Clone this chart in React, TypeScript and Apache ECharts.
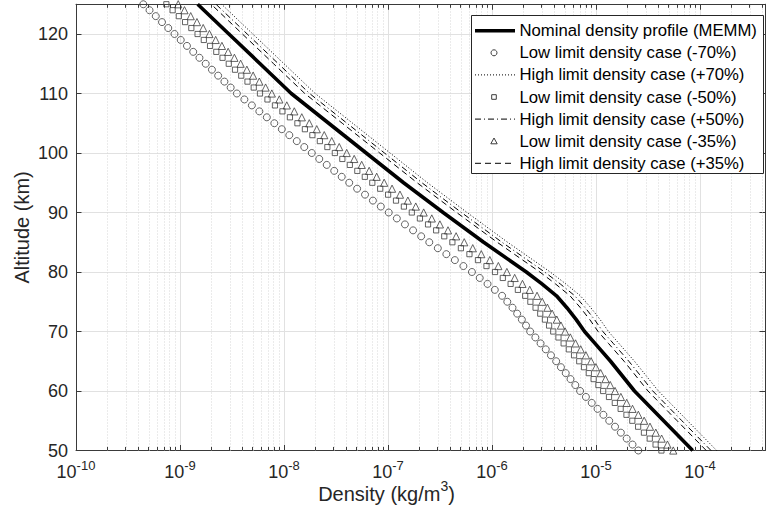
import React, { useEffect, useRef } from "react";
import * as echarts from "echarts";

// ---------------- data (log10 of density in kg/m^3, altitude in km) ----------------
const markerAltitudes = [
  50, 51, 52, 53, 54, 55, 56, 57, 58, 59, 60, 61, 62, 63, 64, 65, 66, 67, 68, 69,
  70, 71, 72, 73, 74, 75, 76, 77, 78, 79, 80, 81, 82, 83, 84, 85, 86, 87, 88, 89,
  90, 91, 92, 93, 94, 95, 96, 97, 98, 99, 100, 101, 102, 103, 104, 105, 106, 107, 108, 109,
  110, 111, 112, 113, 114, 115, 116, 117, 118, 119, 120, 121, 122, 123, 124, 125,
];

const low70LogDensity = [
  -4.593, -4.649, -4.705, -4.761, -4.817, -4.873, -4.929, -4.985, -5.041, -5.097,
  -5.153, -5.199, -5.245, -5.291, -5.337, -5.383, -5.433, -5.483, -5.533, -5.583,
  -5.633, -5.673, -5.713, -5.758, -5.803, -5.853, -5.903, -5.973, -6.043, -6.118,
  -6.193, -6.275, -6.357, -6.439, -6.521, -6.603, -6.681, -6.759, -6.837, -6.915,
  -6.993, -7.069, -7.145, -7.221, -7.297, -7.373, -7.445, -7.517, -7.589, -7.661,
  -7.733, -7.805, -7.877, -7.949, -8.021, -8.093, -8.165, -8.237, -8.309, -8.381,
  -8.453, -8.513, -8.573, -8.633, -8.693, -8.753, -8.813, -8.873, -8.933, -8.993,
  -9.053, -9.113, -9.173, -9.233, -9.293, -9.353,
];

const low50LogDensity = [
  -4.371, -4.427, -4.483, -4.539, -4.595, -4.651, -4.707, -4.763, -4.819, -4.875,
  -4.931, -4.977, -5.023, -5.069, -5.115, -5.161, -5.211, -5.261, -5.311, -5.361,
  -5.411, -5.451, -5.491, -5.536, -5.581, -5.631, -5.681, -5.751, -5.821, -5.896,
  -5.971, -6.053, -6.135, -6.217, -6.299, -6.381, -6.459, -6.537, -6.615, -6.693,
  -6.771, -6.847, -6.923, -6.999, -7.075, -7.151, -7.223, -7.295, -7.367, -7.439,
  -7.511, -7.583, -7.655, -7.727, -7.799, -7.871, -7.943, -8.015, -8.087, -8.159,
  -8.231, -8.291, -8.351, -8.411, -8.471, -8.531, -8.591, -8.651, -8.711, -8.771,
  -8.831, -8.891, -8.951, -9.011, -9.071, -9.131,
];

const low35LogDensity = [
  -4.257, -4.313, -4.369, -4.425, -4.481, -4.537, -4.593, -4.649, -4.705, -4.761,
  -4.817, -4.863, -4.909, -4.955, -5.001, -5.047, -5.097, -5.147, -5.197, -5.247,
  -5.297, -5.337, -5.377, -5.422, -5.467, -5.517, -5.567, -5.637, -5.707, -5.782,
  -5.857, -5.939, -6.021, -6.103, -6.185, -6.267, -6.345, -6.423, -6.501, -6.579,
  -6.657, -6.733, -6.809, -6.885, -6.961, -7.037, -7.109, -7.181, -7.253, -7.325,
  -7.397, -7.469, -7.541, -7.613, -7.685, -7.757, -7.829, -7.901, -7.973, -8.045,
  -8.117, -8.177, -8.237, -8.297, -8.357, -8.417, -8.477, -8.537, -8.597, -8.657,
  -8.717, -8.777, -8.837, -8.897, -8.957, -9.017,
];

const lineAltitudes = [50, 55, 60, 65, 68, 70, 72, 74, 76, 78, 80, 85, 90, 95, 100, 105, 110, 115, 120, 125];

const nominalLogDensity = [
  -4.07, -4.35, -4.63, -4.86, -5.01, -5.11, -5.19, -5.28, -5.38, -5.52,
  -5.67, -6.08, -6.47, -6.85, -7.21, -7.57, -7.93, -8.23, -8.53, -8.83,
];
const high70LogDensity = [
  -3.84, -4.12, -4.40, -4.63, -4.78, -4.88, -4.96, -5.05, -5.15, -5.29,
  -5.44, -5.85, -6.24, -6.62, -6.98, -7.34, -7.70, -8.00, -8.30, -8.60,
];
const high50LogDensity = [
  -3.894, -4.174, -4.454, -4.684, -4.834, -4.934, -5.014, -5.104, -5.204, -5.344,
  -5.494, -5.904, -6.294, -6.674, -7.034, -7.394, -7.754, -8.054, -8.354, -8.654,
];
const high35LogDensity = [
  -3.94, -4.22, -4.50, -4.73, -4.88, -4.98, -5.06, -5.15, -5.25, -5.39,
  -5.54, -5.95, -6.34, -6.72, -7.08, -7.44, -7.80, -8.10, -8.40, -8.70,
];

const seriesNames = [
  "Nominal density profile (MEMM)",
  "Low limit density case (-70%)",
  "High limit density case (+70%)",
  "Low limit density case (-50%)",
  "High limit density case (+50%)",
  "Low limit density case (-35%)",
  "High limit density case (+35%)",
];

// axis ticks (x in log10 decades)
const xDecades = [-10, -9, -8, -7, -6, -5, -4];
const xMinorFactors = [2, 3, 4, 5, 6, 7, 8, 9];
const yTickValues = [50, 60, 70, 80, 90, 100, 110, 120];

// ---------------- styling ----------------
const FONT = '"Liberation Sans", Arial, Helvetica, sans-serif';
const AXIS_COLOR = "#3a3a3a";
const TEXT_COLOR = "#262626";
const GRID_COLOR = "#e1e1e1";
const MINOR_GRID_COLOR = "#d6d6d6";
const MARKER_COLOR = "#3c3c3c";
const X_MIN = -10;
const X_MAX = -3.375;
const Y_MIN = 50;
const Y_MAX = 125;
const LEGEND_Z = 100;

function pairs(xs: number[], ys: number[]) {
  return xs.map((x, i) => [x, ys[i]]);
}

function buildOption() {
  const minorGrid: any[] = [];
  const minorTicks: any[] = [];
  xDecades.forEach((n) => {
    xMinorFactors.forEach((k) => {
      const v = n + Math.log10(k);
      if (v >= X_MAX) return;
      minorGrid.push({
        xAxis: v,
        lineStyle: { color: MINOR_GRID_COLOR, width: 1, type: [1, 2] },
      });
      minorTicks.push([
        { coord: [v, Y_MIN], lineStyle: { color: AXIS_COLOR, width: 1, type: "solid" } },
        { coord: [v, Y_MIN + 0.6] },
      ]);
      minorTicks.push([
        { coord: [v, Y_MAX], lineStyle: { color: AXIS_COLOR, width: 1, type: "solid" } },
        { coord: [v, Y_MAX - 0.6] },
      ]);
    });
  });

  const axisLabelX = {
    margin: 13.5,
    showMaxLabel: false,
    formatter: (v: number) => {
      const r = Math.round(v);
      if (Math.abs(v - r) > 1e-6) return "";
      return `{b|10}{s|${r}}`;
    },
    rich: {
      b: { fontFamily: FONT, fontSize: 18, color: TEXT_COLOR, lineHeight: 16, height: 16, verticalAlign: "bottom" },
      s: { fontFamily: FONT, fontSize: 13, color: TEXT_COLOR, lineHeight: 2, height: 2, verticalAlign: "top" },
    },
  };

  const baseX = {
    type: "value",
    min: X_MIN,
    max: X_MAX,
    interval: 1,
    axisLine: { show: true, onZero: false, lineStyle: { color: AXIS_COLOR, width: 1 } },
    axisTick: { show: true, inside: true, length: 5.5, lineStyle: { color: AXIS_COLOR, width: 1 } },
  };
  const baseY = {
    type: "value",
    min: Y_MIN,
    max: Y_MAX,
    interval: 10,
    axisLine: { show: true, onZero: false, lineStyle: { color: AXIS_COLOR, width: 1 } },
    axisTick: { show: true, inside: true, length: 5.5, lineStyle: { color: AXIS_COLOR, width: 1 } },
  };

  const legendX = 471.5;
  const legendY = 15.5;
  const legendW = 292;
  const legendH = 158;
  const rowY0 = 30.7;
  const rowGap = 22.1;
  const sx1 = 475;
  const sx2 = 515;
  const scx = 494;
  const textX = 519.5;
  const rowY = (i: number) => rowY0 + rowGap * i;

  const legendElements: any[] = [
    {
      type: "rect",
      z: LEGEND_Z,
      shape: { x: legendX, y: legendY, width: legendW, height: legendH },
      style: { fill: "#ffffff", stroke: "#262626", lineWidth: 1 },
    },
    {
      type: "line",
      z: LEGEND_Z + 1,
      shape: { x1: sx1, y1: rowY(0), x2: sx2, y2: rowY(0) },
      style: { stroke: "#000", lineWidth: 3.5 },
    },
    {
      type: "circle",
      z: LEGEND_Z + 1,
      shape: { cx: scx, cy: rowY(1), r: 3 },
      style: { fill: "none", stroke: MARKER_COLOR, lineWidth: 1 },
    },
    {
      type: "line",
      z: LEGEND_Z + 1,
      shape: { x1: sx1, y1: rowY(2), x2: sx2, y2: rowY(2) },
      style: { stroke: "#000", lineWidth: 1, lineDash: [1, 2] },
    },
    {
      type: "rect",
      z: LEGEND_Z + 1,
      shape: { x: scx - 2.3, y: rowY(3) - 2.3, width: 4.6, height: 4.6 },
      style: { fill: "none", stroke: MARKER_COLOR, lineWidth: 1 },
    },
    {
      type: "line",
      z: LEGEND_Z + 1,
      shape: { x1: sx1, y1: rowY(4), x2: sx2, y2: rowY(4) },
      style: { stroke: "#000", lineWidth: 1, lineDash: [6, 3, 1, 3] },
    },
    {
      type: "polygon",
      z: LEGEND_Z + 1,
      shape: { points: [[scx, rowY(5) - 3.2], [scx + 3.2, rowY(5) + 2.6], [scx - 3.2, rowY(5) + 2.6]] },
      style: { fill: "none", stroke: MARKER_COLOR, lineWidth: 1 },
    },
    {
      type: "line",
      z: LEGEND_Z + 1,
      shape: { x1: sx1, y1: rowY(6), x2: sx2, y2: rowY(6) },
      style: { stroke: "#000", lineWidth: 1, lineDash: [6, 4] },
    },
    ...seriesNames.map((name, i) => ({
      type: "text",
      z: LEGEND_Z + 1,
      style: {
        text: name,
        x: textX,
        y: rowY(i),
        fill: "#000",
        fontFamily: FONT,
        fontSize: 16.7,
        verticalAlign: "middle",
        align: "left",
      },
    })),
  ];

  const scatterStyle = (symbol: string, size: number) => ({
    type: "scatter",
    symbol,
    symbolSize: size,
    silent: true,
    z: 3,
    itemStyle: { color: "rgba(0,0,0,0)", borderColor: MARKER_COLOR, borderWidth: 1 },
  });

  return {
    animation: false,
    backgroundColor: "#ffffff",
    grid: { left: 76, right: 1, top: 4.25, bottom: 59.5, containLabel: false, outerBoundsMode: "none" },
    xAxis: [
      {
        ...baseX,
        position: "bottom",
        name: "{a|Density (kg/m}{s|3}{a|)}",
        nameLocation: "middle",
        nameGap: 34.5,
        nameMoveOverlap: false,
        nameTextStyle: {
          fontFamily: FONT,
          fontSize: 20,
          color: TEXT_COLOR,
          padding: [0, 68, 0, 0],
          rich: {
            a: { fontFamily: FONT, fontSize: 20, color: TEXT_COLOR, lineHeight: 18, height: 18, verticalAlign: "bottom" },
            s: { fontFamily: FONT, fontSize: 14, color: TEXT_COLOR, lineHeight: 1, height: 1, verticalAlign: "top" },
          },
        },
        axisLabel: axisLabelX,
        splitLine: { show: true, lineStyle: { color: GRID_COLOR, width: 1 } },
      },
      {
        ...baseX,
        position: "top",
        axisLabel: { show: false },
        splitLine: { show: false },
      },
    ],
    yAxis: [
      {
        ...baseY,
        position: "left",
        name: "Altitude (km)",
        nameLocation: "middle",
        nameGap: 44,
        nameMoveOverlap: false,
        nameTextStyle: { fontFamily: FONT, fontSize: 20, color: TEXT_COLOR },
        axisLabel: {
          margin: 8,
          showMaxLabel: false,
          fontFamily: FONT,
          fontSize: 18,
          color: TEXT_COLOR,
          formatter: (v: number) => (yTickValues.includes(v) ? String(v) : ""),
        },
        splitLine: { show: true, lineStyle: { color: GRID_COLOR, width: 1 } },
      },
      {
        ...baseY,
        position: "right",
        axisLabel: { show: false },
        splitLine: { show: false },
      },
    ],
    graphic: {
      elements: [
        {
          type: "group",
          z: LEGEND_Z,
          silent: true,
          children: legendElements,
        },
      ],
    },
    series: [
      {
        name: seriesNames[0],
        type: "line",
        symbol: "none",
        silent: true,
        z: 4,
        data: pairs(nominalLogDensity, lineAltitudes),
        lineStyle: { color: "#000", width: 3.6, type: "solid" },
        markLine: {
          silent: true,
          z: 1,
          symbol: ["none", "none"],
          label: { show: false },
          animation: false,
          lineStyle: { color: MINOR_GRID_COLOR, width: 1 },
          data: [...minorGrid, ...minorTicks],
        },
      },
      { name: seriesNames[1], ...scatterStyle("circle", 7), data: pairs(low70LogDensity, markerAltitudes) },
      {
        name: seriesNames[2],
        type: "line",
        symbol: "none",
        silent: true,
        z: 3,
        data: pairs(high70LogDensity, lineAltitudes),
        lineStyle: { color: "#000", width: 1, type: [1, 2] },
      },
      { name: seriesNames[3], ...scatterStyle("rect", 5.2), data: pairs(low50LogDensity, markerAltitudes) },
      {
        name: seriesNames[4],
        type: "line",
        symbol: "none",
        silent: true,
        z: 3,
        data: pairs(high50LogDensity, lineAltitudes),
        lineStyle: { color: "#000", width: 1, type: [6, 3, 1, 3] },
      },
      { name: seriesNames[5], ...scatterStyle("triangle", 7.2), data: pairs(low35LogDensity, markerAltitudes) },
      {
        name: seriesNames[6],
        type: "line",
        symbol: "none",
        silent: true,
        z: 3,
        data: pairs(high35LogDensity, lineAltitudes),
        lineStyle: { color: "#000", width: 1, type: [6, 4] },
      },
    ],
  };
}

export default function App() {
  const ref = useRef<HTMLDivElement>(null);
  useEffect(() => {
    if (!ref.current) return;
    const chart = echarts.init(ref.current, null, { renderer: "svg" });
    chart.setOption(buildOption() as any);
    return () => chart.dispose();
  }, []);
  return (
    <div
      ref={ref}
      style={{ position: "fixed", left: 0, top: 0, width: 766, height: 510, background: "#ffffff" }}
    />
  );
}
